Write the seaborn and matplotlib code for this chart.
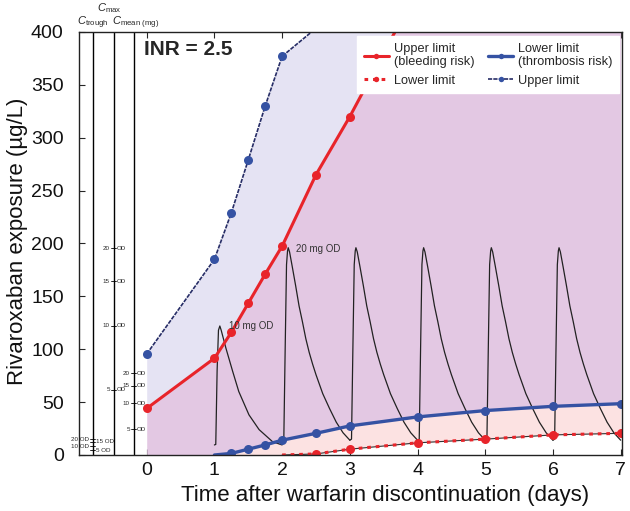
import numpy as np
import pandas as pd
import seaborn as sns
import matplotlib.pyplot as plt

sns.set_style("ticks")
plt.rcParams['font.family'] = ['Liberation Sans', 'DejaVu Sans']
plt.rcParams['mathtext.fontset'] = 'custom'
plt.rcParams['mathtext.rm'] = 'Liberation Sans'
plt.rcParams['mathtext.it'] = 'Liberation Sans:italic'

# limites (INR = 2.5)
red_up_x = [0, 1, 1.25, 1.5, 1.75, 2, 2.5, 3, 4]
red_up_y = [44, 91.5, 116, 143.5, 171, 197.5, 265, 320, 440]
red_lo_x = [2, 2.5, 3, 4, 5, 6, 7]
red_lo_y = [0, 1, 5.5, 11.5, 15, 19, 20.5]
blue_lo_x = [1, 1.25, 1.5, 1.75, 2, 2.5, 3, 4, 5, 6, 7]
blue_lo_y = [0, 1.5, 5.5, 9.5, 14, 20.5, 27.5, 36, 42, 46, 48.5]
blue_up_x = [0, 1, 1.25, 1.5, 1.75, 2, 3]
blue_up_y = [95.5, 185, 229, 279, 330, 377, 430]

# perfis de concentracao por dose (tempo desde a dose, µg/L)
dt_10 = [0, 0.02, 0.04, 0.06, 0.08, 0.10, 0.17, 0.27, 0.36, 0.51, 0.66, 0.86, 1.0]
c_10 = [9.5, 10, 80, 118, 122, 118, 101, 79, 60, 38, 24, 12.5, 9.5]
dt_20 = [0, 0.025, 0.045, 0.065, 0.08, 0.09, 0.11, 0.15, 0.2, 0.25, 0.3, 0.35,
         0.4, 0.45, 0.5, 0.55, 0.6, 0.7, 0.8, 0.9, 1.0]
c_20 = [14, 15, 100, 180, 193, 196, 192, 178, 160, 141, 126, 110,
        97, 86, 76, 67, 58, 44, 31, 21, 14]
dose_days = [1, 2, 3, 4, 5, 6]
doses = [10, 20, 20, 20, 20, 20]

# escalas da esquerda
scale_doses = [5, 10, 15, 20]
cmax_vals = [61.5, 122, 164.5, 195.5]
cmean_vals = [24.3, 48.9, 65.5, 77.3]
ctrough_vals = [4.7, 8.5, 12.3, 14.8]

xticks = list(range(0, 8))
yticks = list(range(0, 401, 50))

RED = '#e8242a'
BLUE = '#3552a3'
NAVY = '#262c66'

profiles = {10: (dt_10, c_10), 20: (dt_20, c_20)}
rows = []
for d, dose in zip(dose_days, doses):
    dt, c = profiles[dose]
    for t, v in zip(dt, c):
        rows.append({'dia': d, 't': d + t, 'conc': v})
pk = pd.DataFrame(rows)

fig = plt.figure(figsize=(6.3, 5.11), dpi=100)
ax = fig.add_axes([0.1254, 0.1096, 0.8619, 0.8278])

# areas
xs = np.linspace(0, 7, 1401)
bu = np.interp(xs, blue_up_x, blue_up_y)
ru = np.interp(xs, red_up_x, red_up_y)
bl = np.interp(xs, blue_lo_x, blue_lo_y, left=0)
rl = np.interp(xs, red_lo_x, red_lo_y, left=0)
mid = np.minimum(ru, bu)
ax.fill_between(xs, mid, bu, color='#e5e3f3', lw=0)
ax.fill_between(xs, bl, mid, color='#e3c8e3', lw=0)
ax.fill_between(xs, rl, bl, color='#fce2e2', lw=0)

# escalas Ctrough / Cmax / Cmean
for xv in [-0.80, -0.49, -0.195]:
    ax.axvline(xv, color='k', lw=1)
fs = 4.5
for dose, v in zip(scale_doses, cmax_vals):
    ax.plot([-0.53, -0.45], [v, v], color='k', lw=0.6)
    ax.text(-0.545, v, str(dose), ha='right', va='center', fontsize=fs)
    ax.text(-0.44, v, 'OD', ha='left', va='center', fontsize=fs)
for dose, v in zip(scale_doses, cmean_vals):
    ax.plot([-0.235, -0.155], [v, v], color='k', lw=0.6)
    ax.text(-0.25, v, str(dose), ha='right', va='center', fontsize=fs)
    ax.text(-0.145, v, 'OD', ha='left', va='center', fontsize=fs)
for dose, v in zip(scale_doses, ctrough_vals):
    ax.plot([-0.84, -0.76], [v, v], color='k', lw=0.6)
    if dose in (20, 10):
        ax.text(-0.85, v, f'{dose} OD', ha='right', va='center', fontsize=fs)
    else:
        ax.text(-0.75, v, f'{dose} OD', ha='left', va='center', fontsize=fs)

ax.text(-0.79, 408.5, r'$C_{\mathrm{trough}}$', ha='center', va='center', fontsize=8, clip_on=False)
ax.text(-0.555, 422.5, r'$C_{\mathrm{max}}$', ha='center', va='center', fontsize=8, clip_on=False)
ax.text(-0.51, 408.5, r'$C_{\mathrm{mean\ (mg)}}$', ha='left', va='center', fontsize=8, clip_on=False)

# curva PK
sns.lineplot(data=pk, x='t', y='conc', units='dia', estimator=None, sort=False,
             color='#222222', lw=0.9, legend=False, ax=ax)

# limites
ms = 6.5
sns.lineplot(x=red_lo_x, y=red_lo_y, color='#333333', lw=0.8, ax=ax)
sns.lineplot(x=red_lo_x, y=red_lo_y, color=RED, lw=2.2, linestyle=(0, (1.2, 1.6)),
             marker='o', markersize=ms, markeredgewidth=0, markevery=list(range(1, len(red_lo_x))),
             ax=ax, label='Lower limit')
sns.lineplot(x=blue_up_x, y=blue_up_y, color=NAVY, lw=1.2, linestyle=(0, (2.5, 0.7)),
             marker='o', markersize=ms, markerfacecolor=BLUE, markeredgewidth=0,
             markevery=list(range(0, 6)), ax=ax, label='Upper limit ')
sns.lineplot(x=red_up_x, y=red_up_y, color=RED, lw=2.2, marker='o', markersize=ms,
             markeredgewidth=0, ax=ax, label='Upper limit\n(bleeding risk)')
sns.lineplot(x=blue_lo_x, y=blue_lo_y, color=BLUE, lw=2.4, marker='o', markersize=ms,
             markeredgewidth=0, markevery=list(range(1, len(blue_lo_x))), ax=ax,
             label='Lower limit\n(thrombosis risk)')

ax.text(-0.04, 383, 'INR = 2.5', fontsize=15, fontweight='bold', ha='left', va='center')
ax.text(1.22, 122, '10 mg OD', fontsize=7, ha='left', va='center', color='#333333')
ax.text(2.21, 194.5, '20 mg OD', fontsize=7, ha='left', va='center', color='#333333')

ax.set_xlim(-1.0, 7.02)
ax.set_ylim(0, 400)
ax.set_xticks(xticks)
ax.set_yticks(yticks)
ax.tick_params(axis='x', direction='in', top=True, labelsize=14, pad=5, length=4,
               labelcolor='#111111')
ax.tick_params(axis='y', direction='in', labelsize=14, pad=11, length=4, labelcolor='#111111')
for s in ax.spines.values():
    s.set_color('#222222')
    s.set_linewidth(1)

ax.set_xlabel('Time after warfarin discontinuation (days)', fontsize=16, color='#111111')
ax.set_ylabel('Rivaroxaban exposure (µg/L)', fontsize=16, color='#111111')
ax.xaxis.set_label_coords(0.563, -0.072)
ax.yaxis.set_label_coords(-0.094, 0.505)

h, l = ax.get_legend_handles_labels()
order = [l.index('Upper limit\n(bleeding risk)'), l.index('Lower limit'),
         l.index('Lower limit\n(thrombosis risk)'), l.index('Upper limit ')]
leg = ax.legend([h[i] for i in order], [l[i].strip() if i == order[3] else l[i] for i in order],
                ncol=2, loc='upper right', bbox_to_anchor=(0.995, 0.99), borderaxespad=0,
                fontsize=9.2, frameon=True, fancybox=False, framealpha=1, edgecolor='white',
                handlelength=2.0, markerscale=0.6, columnspacing=1.0, labelspacing=0.5,
                handletextpad=0.4, borderpad=0.5)

plt.savefig('out.png', dpi=100)
